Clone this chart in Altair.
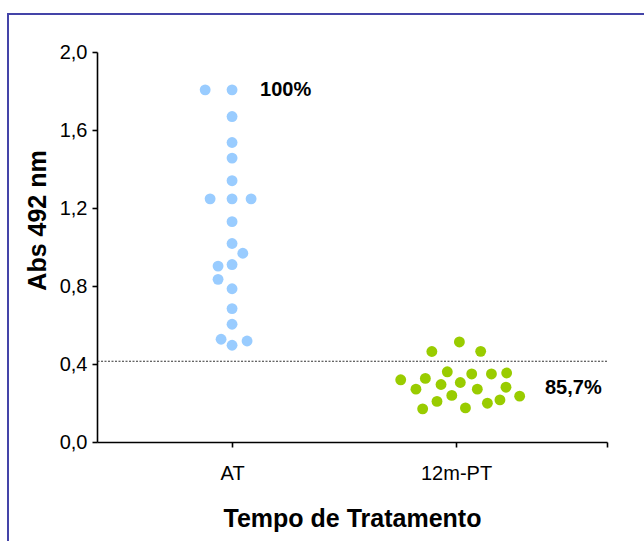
import altair as alt
import pandas as pd

# Absorbance readings (Abs 492 nm) per patient, with column-scatter jitter
at_values = [1.806, 1.806, 1.669, 1.536, 1.456, 1.340, 1.247, 1.247, 1.247,
             1.130, 1.018, 0.968, 0.902, 0.910, 0.834, 0.786, 0.684, 0.604,
             0.527, 0.518, 0.496]
at_jitter = [-0.12, 0.0, 0.0, 0.0, 0.0, 0.0, -0.098, 0.0, 0.085,
             0.0, 0.0, 0.048, -0.0625, 0.0, -0.0625, 0.0, 0.0, 0.0,
             -0.049, 0.067, 0.0]

pt_values = [0.464, 0.513, 0.465, 0.319, 0.271, 0.326, 0.360, 0.295, 0.305,
             0.349, 0.349, 0.354, 0.271, 0.281, 0.239, 0.208, 0.170, 0.175,
             0.199, 0.216, 0.235]
pt_jitter = [-0.108, 0.015, 0.110, -0.247, -0.179, -0.137, -0.039, -0.067, 0.019,
             0.070, 0.158, 0.226, 0.095, 0.223, -0.019, -0.085, -0.149, 0.042,
             0.140, 0.196, 0.284]

groups = ["AT", "12m-PT"]
group_colors = ["#99CCFF", "#99CC00"]
cutoff = 0.414

# Percentage annotations
label_text = ["100%", "85,7%"]
label_x = [1.125, 2.397]
label_y = [1.806, 0.276]

rows = []
for gi, (vals, jit) in enumerate([(at_values, at_jitter), (pt_values, pt_jitter)]):
    for v, j in zip(vals, jit):
        rows.append({"grupo": groups[gi], "pos": gi + 1 + j, "abs": v})
points_df = pd.DataFrame(rows)
labels_df = pd.DataFrame({"txt": label_text, "x": label_x, "y": label_y})

x_min, x_max = 0.397, 2.674
x_scale = alt.Scale(domain=[x_min, x_max], nice=False, zero=False)
y_scale = alt.Scale(domain=[0, 2.0], nice=False)

FONT = "Liberation Sans"

frame = alt.Chart(alt.Data(values=[{}])).mark_rect(
    filled=False, stroke="#4444A8", strokeWidth=2
).encode(
    x=alt.value(-89), y=alt.value(-38), x2=alt.value(620), y2=alt.value(520)
)

cut = alt.Chart(alt.Data(values=[{}])).mark_rule(
    color="#333333", strokeWidth=1.2, strokeDash=[2, 1.5]
).encode(y=alt.datum(cutoff, scale=y_scale))

dots = alt.Chart(points_df).mark_circle(size=118, opacity=1).encode(
    x=alt.X(
        "pos:Q",
        scale=x_scale,
        axis=alt.Axis(
            title="Tempo de Tratamento",
            values=[1, 2, x_max],
            labelExpr="datum.value == 1 ? 'AT' : (datum.value == 2 ? '12m-PT' : '')",
            labelPadding=16,
            labelFlush=False,
            labelOverlap=False,
            grid=False,
            titleBaseline="alphabetic",
            titleY=84,
        ),
    ),
    y=alt.Y(
        "abs:Q",
        scale=y_scale,
        axis=alt.Axis(
            title="Abs 492 nm",
            values=[0, 0.4, 0.8, 1.2, 1.6, 2.0],
            labelExpr="replace(format(datum.value, '.1f'), '.', ',')",
            labelPadding=5,
            grid=False,
            titleAngle=270,
            titleBaseline="middle",
            titleX=-60,
            titleY=168,
            titleAlign="center",
        ),
    ),
    color=alt.Color("grupo:N", scale=alt.Scale(domain=groups, range=group_colors), legend=None),
)

labels = alt.Chart(labels_df).mark_text(
    align="left", baseline="middle", font=FONT, fontSize=20, fontWeight="bold", color="black"
).encode(
    x=alt.X("x:Q", scale=x_scale),
    y=alt.Y("y:Q", scale=y_scale),
    text="txt:N",
)

chart = alt.layer(frame, cut, dots, labels).properties(
    width=510,
    height=390,
    autosize=alt.AutoSizeParams(type="none"),
    padding={"left": 97, "top": 52, "right": 37, "bottom": 99},
    background="white",
).configure_view(
    stroke=None
).configure_axis(
    domainColor="black",
    domainWidth=1.6,
    tickColor="black",
    tickWidth=1.6,
    tickSize=5,
    labelFont=FONT,
    labelFontSize=20,
    labelColor="black",
    titleFont=FONT,
    titleFontSize=25,
    titleFontWeight="bold",
    titleColor="black",
)

chart.save("out.html", embed_options={"renderer": "svg", "actions": False})
